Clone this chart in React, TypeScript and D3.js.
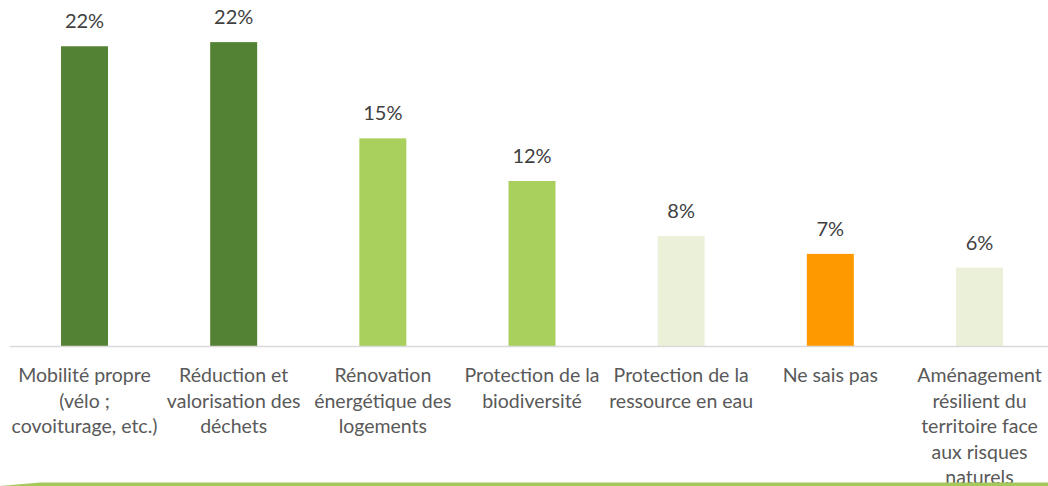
import * as d3 from "d3";
import React from "react";

// categories (tick labels, already wrapped as in the source)
const categories = [
  ["Mobilité propre", "(vélo ;", "covoiturage, etc.)"],
  ["Réduction et", "valorisation des", "déchets"],
  ["Rénovation", "énergétique des", "logements"],
  ["Protection de la", "biodiversité"],
  ["Protection de la", "ressource en eau"],
  ["Ne sais pas"],
  ["Aménagement", "résilient du", "territoire face", "aux risques", "naturels"],
];
// share of answers, %
const values = [21.8, 22.1, 15.1, 12.0, 8.0, 6.7, 5.7];
const colors = ["#548235", "#548235", "#a9d05c", "#a9d05c", "#ebf1d8", "#ff9900", "#ebf1d8"];

export default function App() {
  const width = 1048;
  const height = 486;
  const baseY = 346;
  const font = "Lato, 'Open Sans', sans-serif";

  const x = d3
    .scaleBand<number>()
    .domain(d3.range(values.length))
    .range([10, 1054])
    .paddingInner(0.685)
    .paddingOuter(0.342);

  const y = d3.scaleLinear().domain([0, 25]).range([baseY, baseY - 25 * 13.75]);

  return (
    <svg
      width={width}
      height={height}
      style={{ position: "absolute", left: 0, top: 0, background: "#fff" }}
    >
      {values.map((v, i) => (
        <g key={i}>
          <rect
            x={x(i)}
            y={y(v)}
            width={x.bandwidth()}
            height={baseY - y(v)}
            fill={colors[i]}
          />
          <text
            x={(x(i) as number) + x.bandwidth() / 2}
            y={y(v) - 18}
            textAnchor="middle"
            fontFamily={font}
            fontSize={20}
            fill="#404040"
          >
            {Math.round(v) + "%"}
          </text>
        </g>
      ))}
      <line x1={10} x2={width} y1={baseY + 0.5} y2={baseY + 0.5} stroke="#d9d9d9" strokeWidth={1.5} />
      {categories.map((lines, i) => (
        <text
          key={i}
          x={(x(i) as number) + x.bandwidth() / 2}
          y={baseY + 36}
          textAnchor="middle"
          fontFamily={font}
          fontSize={19.5}
          fill="#595959"
        >
          {lines.map((l, j) => (
            <tspan key={j} x={(x(i) as number) + x.bandwidth() / 2} dy={j === 0 ? 0 : 25.5}>
              {l}
            </tspan>
          ))}
        </text>
      ))}
      <path d={`M0,486 L40,482.5 L${width},482.5 L${width},486 Z`} fill="#a5c85a" />
    </svg>
  );
}
